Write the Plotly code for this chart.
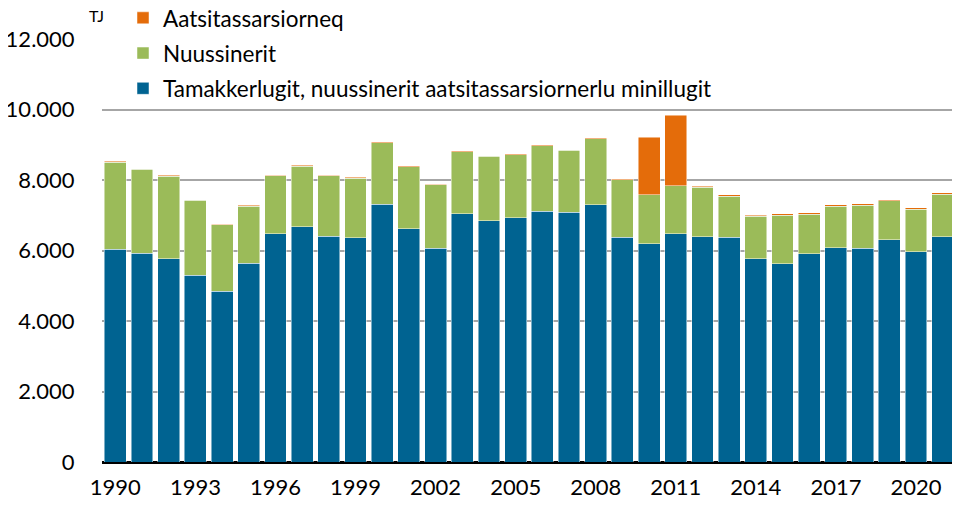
import plotly.graph_objects as go

years = list(range(1990, 2022))
blue = [6040, 5920, 5760, 5300, 4850, 5640, 6470, 6670, 6410, 6360, 7310, 6620, 6070, 7045, 6850,
        6930, 7110, 7085, 7300, 6380, 6185, 6480, 6390, 6375, 5770, 5620, 5910, 6080, 6060, 6310, 5970, 6390]
total_green = [8505, 8300, 8110, 7420, 6730, 7260, 8120, 8395, 8120, 8055, 9060, 8380, 7865, 8805, 8670,
               8720, 8975, 8840, 9170, 8010, 7577, 7832, 7800, 7540, 6965, 7005, 7035, 7255, 7285, 7405, 7170, 7590]
orange = [20, 20, 20, 20, 20, 20, 20, 20, 20, 20, 20, 20, 20, 20, 20,
          20, 20, 20, 30, 20, 1640, 2010, 25, 40, 35, 40, 30, 40, 40, 40, 40, 45]
green = [t - b for t, b in zip(total_green, blue)]

names = ["Tamakkerlugit, nuussinerit aatsitassarsiornerlu minillugit", "Nuussinerit", "Aatsitassarsiorneq"]
colors = ["#006391", "#9bbb59", "#e46c0a"]
series = [blue, green, orange]
ranks = [3, 2, 1]

fig = go.Figure()
for n, c, v, r in zip(names, colors, series, ranks):
    fig.add_trace(go.Bar(x=years, y=v, name=n, legendgroup=n, legendrank=r,
                         marker=dict(color=c, line=dict(color="rgba(255,255,255,0.6)", width=0.8))))

font = "Lato, Carlito, Calibri, sans-serif"
fig.update_layout(
    barmode="stack", bargap=0.18,
    width=952, height=498,
    margin=dict(l=94, r=4, t=31, b=44, autoexpand=False),
    paper_bgcolor="white", plot_bgcolor="white",
    separators=",.",
    font=dict(family=font, size=22, color="#000"),
    showlegend=True,
    legend=dict(x=0.0246, y=1.10, xref="paper", yref="paper", xanchor="left", yanchor="top",
                traceorder="grouped", bgcolor="rgba(0,0,0,0)", font=dict(size=22.5),
                tracegroupgap=3),
    xaxis=dict(tickmode="array", tickvals=years[::3], ticktext=[str(y) for y in years[::3]],
               ticks="outside", ticklen=6, tickcolor="rgba(0,0,0,0)", range=[1989.5, 2021.5],
               showline=False, showgrid=False, tickfont=dict(size=22), automargin=False),
    yaxis=dict(range=[0, 12000], tickvals=[0, 2000, 4000, 6000, 8000, 10000, 12000], tickformat=",d",
               showgrid=True, gridcolor="#a6a6a6", gridwidth=1.5, zeroline=True, zerolinecolor="#000",
               zerolinewidth=2.5, ticks="outside", ticklen=22, tickcolor="rgba(0,0,0,0)",
               tickfont=dict(size=22), automargin=False),
)
fig.layout.annotations = [dict(text="TJ", xref="paper", yref="paper", x=-0.006, y=1.0567,
                               xanchor="center", yanchor="middle", showarrow=False, font=dict(size=16))]
fig.write_html("out.html")
